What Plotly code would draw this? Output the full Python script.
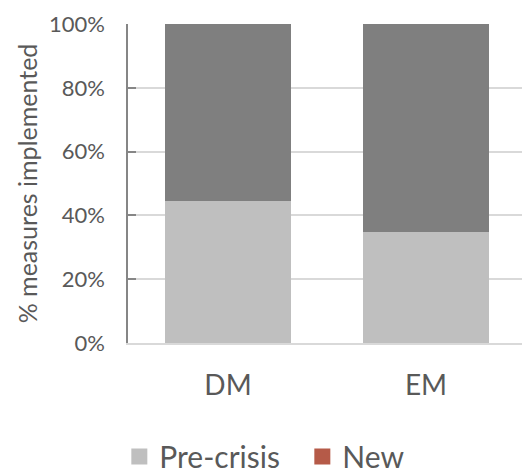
import plotly.graph_objects as go

categories = ["DM", "EM"]
pre_crisis = [0.446, 0.349]
new = [0.0, 0.0]
remaining = [0.554, 0.651]

FONT = "Lato"
TXT = "#595959"

fig = go.Figure()
fig.add_trace(go.Bar(x=categories, y=pre_crisis, name="Pre-crisis",
                     marker=dict(color="#bfbfbf", line=dict(width=0)), showlegend=False))
fig.add_trace(go.Bar(x=categories, y=new, name="New",
                     marker=dict(color="#b55a48", line=dict(width=0)), showlegend=False))
fig.add_trace(go.Bar(x=categories, y=remaining, name="Other",
                     marker=dict(color="#7f7f7f", line=dict(width=0)), showlegend=False))
# legend entries
fig.add_trace(go.Scatter(x=[None], y=[None], mode="markers", name="Pre-crisis",
                         marker=dict(symbol="square", size=21, color="#bfbfbf")))
fig.add_trace(go.Scatter(x=[None], y=[None], mode="markers", name="New",
                         marker=dict(symbol="square", size=21, color="#b55a48")))

fig.update_layout(
    width=522, height=476,
    barmode="stack", bargap=0.364,
    margin=dict(l=128, r=0, t=24, b=133, autoexpand=False),
    paper_bgcolor="white", plot_bgcolor="white",
    font=dict(family=FONT, color=TXT),
    legend=dict(orientation="h", x=-0.022, xanchor="left", y=-0.437, yanchor="bottom",
                font=dict(size=30, color=TXT), itemsizing="trace", traceorder="normal",
                entrywidth=138, entrywidthmode="pixels"),
    xaxis=dict(type="category", range=[-0.505, 1.485], showgrid=False,
               showline=True, linecolor="#d9d9d9", linewidth=2, automargin=False,
               tickfont=dict(size=28, color=TXT), ticks="", ticklabelstandoff=16),
    yaxis=dict(range=[0, 1], dtick=0.2, tickformat=".0%", showgrid=True,
               gridcolor="#d9d9d9", gridwidth=2, zeroline=False, automargin=False,
               showline=True, linecolor="#868686", linewidth=1.5,
               ticks="inside", ticklen=8, tickcolor="#868686", tickwidth=1.5,
               tickfont=dict(size=22, color=TXT), ticklabelstandoff=17,
               title=dict(text="% measures implemented", font=dict(size=25, color=TXT), standoff=4)),
)

fig.write_html("out.html")
